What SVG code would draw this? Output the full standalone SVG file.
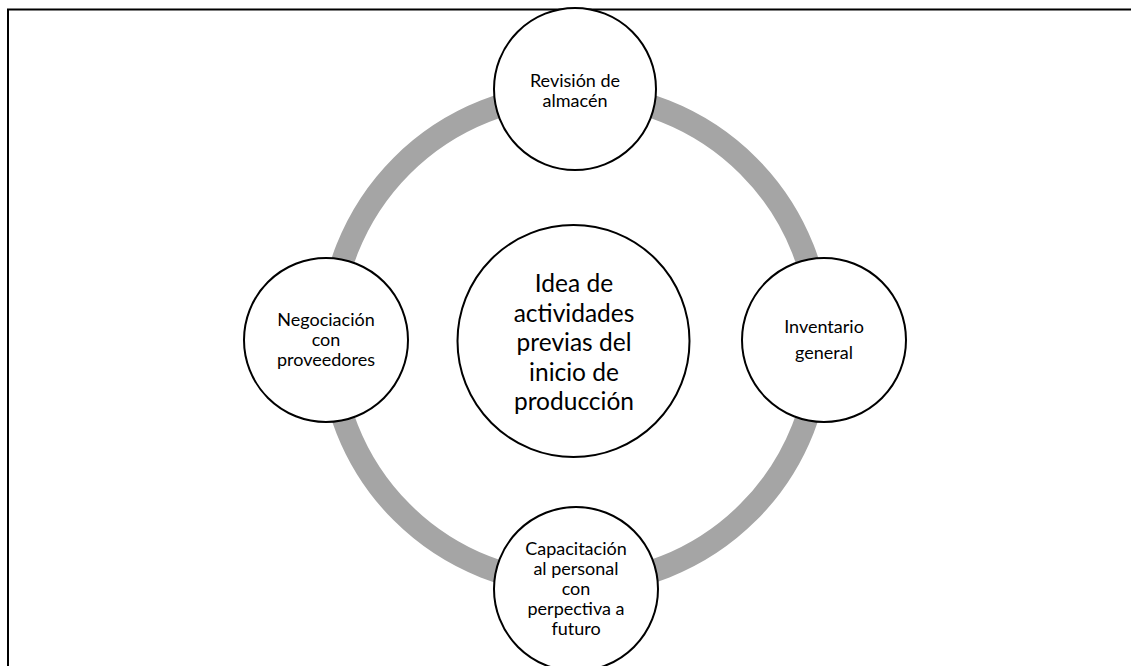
<svg xmlns="http://www.w3.org/2000/svg" width="1131" height="666" viewBox="0 0 1131 666">
<style>
.node{fill:#fff;stroke:#000;stroke-width:2}
.t{font-family:Lato,"Open Sans","Liberation Sans",sans-serif;font-size:18px;fill:#000;text-anchor:middle}
.tc{font-family:Lato,"Open Sans","Liberation Sans",sans-serif;font-size:24.5px;fill:#000;text-anchor:middle}
</style>
<rect width="1131" height="666" fill="#fff"/>
<g id="frame">
<path d="M8 666 V9.5 H1131" fill="none" stroke="#000" stroke-width="2"/>
</g>
<g id="connectors">
<circle cx="575" cy="339" r="245" fill="none" stroke="#A5A5A5" stroke-width="23"/>
</g>
<g id="center">
<circle class="node" cx="573.5" cy="341" r="116"/>
<text class="tc" x="574" y="292">Idea de</text>
<text class="tc" x="574" y="322">actividades</text>
<text class="tc" x="574" y="351">previas del</text>
<text class="tc" x="574" y="381">inicio de</text>
<text class="tc" x="574" y="410">producción</text>
</g>
<g id="revision">
<circle class="node" cx="575" cy="89" r="81"/>
<text class="t" x="575" y="87">Revisión de</text>
<text class="t" x="575" y="107">almacén</text>
</g>
<g id="inventario">
<circle class="node" cx="824" cy="340" r="82"/>
<text class="t" x="824" y="333">Inventario</text>
<text class="t" x="824" y="359">general</text>
</g>
<g id="capacitacion">
<circle class="node" cx="576" cy="589" r="82"/>
<text class="t" x="576" y="555">Capacitación</text>
<text class="t" x="576" y="575">al personal</text>
<text class="t" x="576" y="595">con</text>
<text class="t" x="576" y="615">perpectiva a</text>
<text class="t" x="576" y="635">futuro</text>
</g>
<g id="negociacion">
<circle class="node" cx="326" cy="340" r="82"/>
<text class="t" x="326" y="326">Negociación</text>
<text class="t" x="326" y="346">con</text>
<text class="t" x="326" y="366">proveedores</text>
</g>
</svg>
